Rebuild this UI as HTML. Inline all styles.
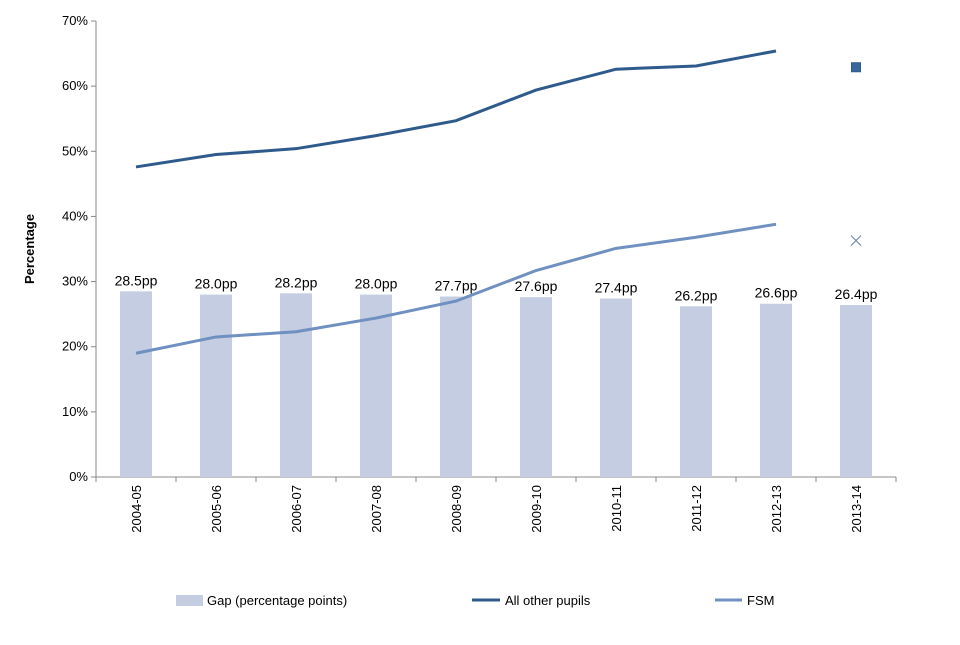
<!DOCTYPE html>
<html><head><meta charset="utf-8"><style>
body{margin:0;background:#fff;font-family:"Liberation Sans",sans-serif;}
svg text{font-family:"Liberation Sans",sans-serif;fill:#000;}
</style></head><body>
<svg id="chart" width="960" height="640" xmlns="http://www.w3.org/2000/svg"></svg>
<script>
const categories=["2004-05","2005-06","2006-07","2007-08","2008-09","2009-10","2010-11","2011-12","2012-13","2013-14"];
const gapValues=[28.5,28.0,28.2,28.0,27.7,27.6,27.4,26.2,26.6,26.4];
const gapLabels=["28.5pp","28.0pp","28.2pp","28.0pp","27.7pp","27.6pp","27.4pp","26.2pp","26.6pp","26.4pp"];
const otherValues=[47.6,49.5,50.4,52.4,54.7,59.4,62.6,63.1,65.4];
const otherLast=62.9;
const fsmValues=[19.0,21.5,22.3,24.4,27.0,31.7,35.1,36.8,38.8];
const fsmLast=36.3;
const yTicks=[0,10,20,30,40,50,60,70];
const yTickLabels=["0%","10%","20%","30%","40%","50%","60%","70%"];

const svg=document.getElementById('chart');
const NS="http://www.w3.org/2000/svg";
const X0=96,X1=896,Y0=477,Y1=21;
const band=(X1-X0)/categories.length;
const x=i=>X0+band*(i+0.5);
const y=v=>Y0-(v/70)*(Y0-Y1);
function mk(tag,attrs,name,text){const e=document.createElementNS(NS,tag);for(const k in attrs)e.setAttribute(k,attrs[k]);


if(text!==undefined)e.textContent=text;svg.appendChild(e);return e;}
// axes
mk('line',{x1:X0,y1:Y1,x2:X0,y2:Y0,stroke:'#888','stroke-width':1},'y-axis');
mk('line',{x1:X0,y1:Y0,x2:X1,y2:Y0,stroke:'#888','stroke-width':1},'x-axis');
yTicks.forEach((t,i)=>{mk('line',{x1:X0-5,y1:y(t),x2:X0,y2:y(t),stroke:'#888'},'y-tick');
mk('text',{x:X0-8,y:y(t)+4,'text-anchor':'end','font-size':13},'y-tick-label',yTickLabels[i]);});
for(let i=0;i<=categories.length;i++)mk('line',{x1:X0+band*i,y1:Y0,x2:X0+band*i,y2:Y0+5,stroke:'#888'},'x-tick');
mk('text',{x:34,y:249,'text-anchor':'middle','font-size':13,'font-weight':'bold',transform:'rotate(-90 34 249)'},'y-axis-title','Percentage');
// bars
gapValues.forEach((v,i)=>{mk('rect',{x:x(i)-16,y:y(v),width:32,height:Y0-y(v),fill:'#c4cde1'},'bar-gap');
mk('text',{x:x(i),y:y(v)-6,'text-anchor':'middle','font-size':14},'bar-label',gapLabels[i]);});
categories.forEach((c,i)=>{mk('text',{x:x(i)+5,y:485,'text-anchor':'end','font-size':13,transform:`rotate(-90 ${x(i)+5} 485)`},'x-tick-label',c);});
// lines
mk('polyline',{points:otherValues.map((v,i)=>x(i)+','+y(v)).join(' '),fill:'none',stroke:'#2f5a8c','stroke-width':3},'line-all-other-pupils');
mk('polyline',{points:fsmValues.map((v,i)=>x(i)+','+y(v)).join(' '),fill:'none',stroke:'#6f90c0','stroke-width':3},'line-fsm');
const li=categories.length-1;
mk('rect',{x:x(li)-4.5,y:y(otherLast)-4.5,width:9,height:9,fill:'#3a66a0',stroke:'#2f5a8c'},'marker-all-other-2013-14');
const fx=x(li),fy=y(fsmLast);
mk('path',{d:`M${fx-5} ${fy-5}L${fx+5} ${fy+5}M${fx-5} ${fy+5}L${fx+5} ${fy-5}`,stroke:'#7a8fb0','stroke-width':1.2},'marker-fsm-2013-14');
// legend
mk('rect',{x:176,y:595,width:27,height:11,fill:'#c4cde1'},'legend-gap-swatch');
mk('text',{x:207,y:605,'font-size':13},'legend-gap-label','Gap (percentage points)');
mk('line',{x1:472,y1:600,x2:500,y2:600,stroke:'#2f5a8c','stroke-width':3},'legend-other-swatch');
mk('text',{x:505,y:605,'font-size':13},'legend-other-label','All other pupils');
mk('line',{x1:715,y1:600,x2:742,y2:600,stroke:'#6f90c0','stroke-width':3},'legend-fsm-swatch');
mk('text',{x:747,y:605,'font-size':13},'legend-fsm-label','FSM');
</script>
</body></html>
